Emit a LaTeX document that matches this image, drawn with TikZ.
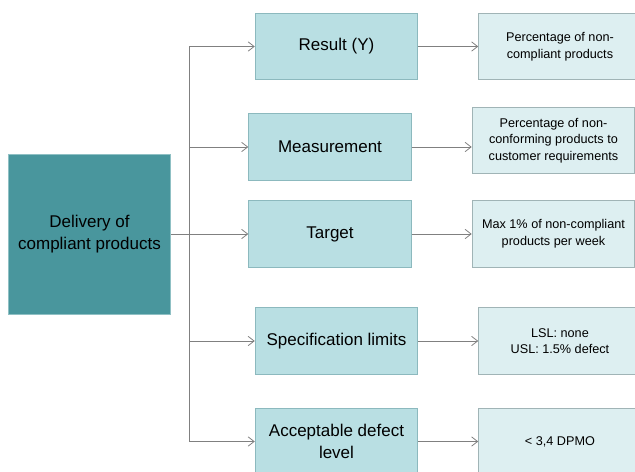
\documentclass[tikz,border=0pt]{standalone}
\usepackage{fontspec}
\setmainfont{Liberation Sans}
\usepackage{xcolor}
\usetikzlibrary{arrows.meta,positioning}

\definecolor{rootfill}{HTML}{49969D}
\definecolor{rootline}{HTML}{8FC0C4}
\definecolor{midfill}{HTML}{B9DFE3}
\definecolor{midline}{HTML}{8CB9BE}
\definecolor{descfill}{HTML}{DDEFF1}
\definecolor{descline}{HTML}{A0B4B6}
\definecolor{linegray}{HTML}{808080}

\begin{document}
\begin{tikzpicture}[x=0.75pt, y=-0.75pt]
% Define styles
\tikzstyle{rootbox} = [rectangle, minimum width=122pt, minimum height=120pt, align=center, draw=rootline, line width=0.6pt, fill=rootfill, font=\fontsize{12.75}{16.5}\selectfont]
\tikzstyle{midbox} = [rectangle, minimum width=122pt, minimum height=50pt, align=center, draw=midline, line width=0.6pt, fill=midfill, font=\fontsize{12.75}{17}\selectfont]
\tikzstyle{descbox} = [rectangle, minimum width=122pt, minimum height=50pt, align=center, draw=descline, line width=0.6pt, fill=descfill, font=\fontsize{9.5}{12.5}\selectfont]
\tikzstyle{arrow} = [draw=linegray, line width=0.6pt, -{Straight Barb[length=4.5pt,width=7pt]}]
\tikzstyle{line} = [draw=linegray, line width=0.6pt]

\useasboundingbox (0,0) rectangle (635,471);
\clip (0,0) rectangle (635,471);

% Place nodes
\node (root) [rootbox] at (89.5,234) {Delivery of\\compliant products};
\node (result) [midbox] at (336.5,46.5) {Result (Y)};
\node (measure) [midbox] at (330,147) {Measurement};
\node (target) [midbox] at (330,234) {Target};
\node (speclim) [midbox] at (336.5,341) {Specification limits};
\node (accept) [midbox] at (336.5,441.5) {Acceptable defect\\level};

\node (resultdesc) [descbox, right=45pt of result] {Percentage of non-\\compliant products};
\node (measuredesc) [descbox, right=45pt of measure, yshift=4.9pt] {Percentage of non-\\conforming products to\\customer requirements};
\node (targetdesc) [descbox, right=45pt of target] {Max 1\% of non-compliant\\products per week};
\node (specdesc) [descbox, right=45pt of speclim] {LSL: none\\USL: 1.5\% defect};
\node (acceptdesc) [descbox, right=45pt of accept] {< 3,4 DPMO};

\coordinate (split) at (189,234);

% Draw arrows
\draw [line] (split |- result.west) -- (split |- accept.west);
\draw [arrow] (root.east |- target.west) -- (target.west);
\draw [arrow] (split |- result.west) -- (result.west);
\draw [arrow] (split |- measure.west) -- (measure.west);
\draw [arrow] (split |- speclim.west) -- (speclim.west);
\draw [arrow] (split |- accept.west) -- (accept.west);

\draw [arrow] (result.east) -- (resultdesc.west);
\draw [arrow] (measure.east) -- (measure.east -| measuredesc.west);
\draw [arrow] (target.east) -- (targetdesc.west);
\draw [arrow] (speclim.east) -- (specdesc.west);
\draw [arrow] (accept.east) -- (acceptdesc.west);
\end{tikzpicture}
\end{document}
